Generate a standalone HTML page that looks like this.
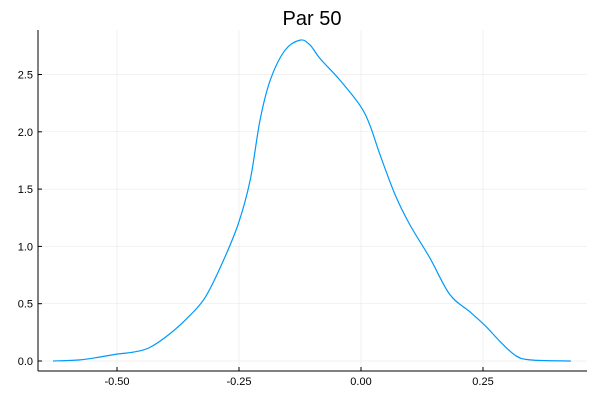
<!DOCTYPE html>
<html><head><meta charset="utf-8"><style>
html,body{margin:0;padding:0;background:#fff;}
svg{display:block;font-family:"Liberation Sans",sans-serif;}
</style></head><body>
<svg id="chart" width="600" height="400">
<text x="312" y="25" text-anchor="middle" font-size="20" fill="#000">Par 50</text>
<g id="grid"></g>
<g id="axes"></g>
<path id="curve" fill="none" stroke="#009af9" stroke-width="1.2"></path>
</svg>
<script>
const xTicks = [-0.5, -0.25, 0, 0.25];
const xTickLabels = ["-0.50", "-0.25", "0.00", "0.25"];
const yTicks = [0, 0.5, 1, 1.5, 2, 2.5];
const yTickLabels = ["0.0", "0.5", "1.0", "1.5", "2.0", "2.5"];
const xs = [-0.631,-0.576,-0.535,-0.5,-0.463,-0.432,-0.391,-0.35,-0.32,-0.289,-0.252,-0.227,-0.207,-0.186,-0.156,-0.125,-0.105,-0.084,-0.043,-0.002,0.018,0.039,0.07,0.1,0.141,0.182,0.223,0.254,0.285,0.316,0.346,0.43];
const ys = [0,0.01,0.035,0.06,0.08,0.12,0.24,0.4,0.55,0.81,1.19,1.58,2.1,2.45,2.71,2.8,2.76,2.64,2.45,2.23,2.06,1.8,1.45,1.19,0.9,0.58,0.43,0.31,0.17,0.05,0.01,0];

const X = v => 361 + v * 488;
const Y = v => 361 - v * 114.6;
const ns = "http://www.w3.org/2000/svg";
const grid = document.getElementById('grid'), axes = document.getElementById('axes');
function mk(tag, attrs, parent){ const e=document.createElementNS(ns,tag); for(const k in attrs) e.setAttribute(k,attrs[k]); parent.appendChild(e); return e; }
const L=38, R=587, T=30, B=371;
xTicks.forEach((t,i)=>{
  const g = mk('line',{x1:X(t),x2:X(t),y1:T,y2:B,stroke:'#000','stroke-opacity':0.1,'stroke-width':0.5},grid);
  
  
  const tk = mk('line',{x1:X(t),x2:X(t),y1:B,y2:B-4,stroke:'#000','stroke-width':1},axes);
  
  
  const tx = mk('text',{x:X(t),y:B+14,'text-anchor':'middle','font-size':11,fill:'#000'},axes);
  tx.textContent = xTickLabels[i];
  
  
});
yTicks.forEach((t,i)=>{
  const g = mk('line',{x1:L,x2:R,y1:Y(t),y2:Y(t),stroke:'#000','stroke-opacity':0.1,'stroke-width':0.5},grid);
  
  
  const tk = mk('line',{x1:L,x2:L+4,y1:Y(t),y2:Y(t),stroke:'#000','stroke-width':1},axes);
  
  
  const tx = mk('text',{x:L-5,y:Y(t)+4,'text-anchor':'end','font-size':11,fill:'#000'},axes);
  tx.textContent = yTickLabels[i];
  
  
});
const xa = mk('line',{x1:L,x2:R,y1:B,y2:B,stroke:'#000','stroke-width':1},axes);


const ya = mk('line',{x1:L,x2:L,y1:T,y2:B,stroke:'#000','stroke-width':1},axes);


const P = xs.map((v,i)=>[X(v),Y(ys[i])]);
let d = 'M'+P[0][0]+','+P[0][1];
for(let i=0;i<P.length-1;i++){
  const p0=P[Math.max(0,i-1)],p1=P[i],p2=P[i+1],p3=P[Math.min(P.length-1,i+2)];
  const c1=[p1[0]+(p2[0]-p0[0])/6,p1[1]+(p2[1]-p0[1])/6];
  const c2=[p2[0]-(p3[0]-p1[0])/6,p2[1]-(p3[1]-p1[1])/6];
  d+=' C'+c1+' '+c2+' '+p2;
}
document.getElementById('curve').setAttribute('d',d);
</script>
</body></html>
